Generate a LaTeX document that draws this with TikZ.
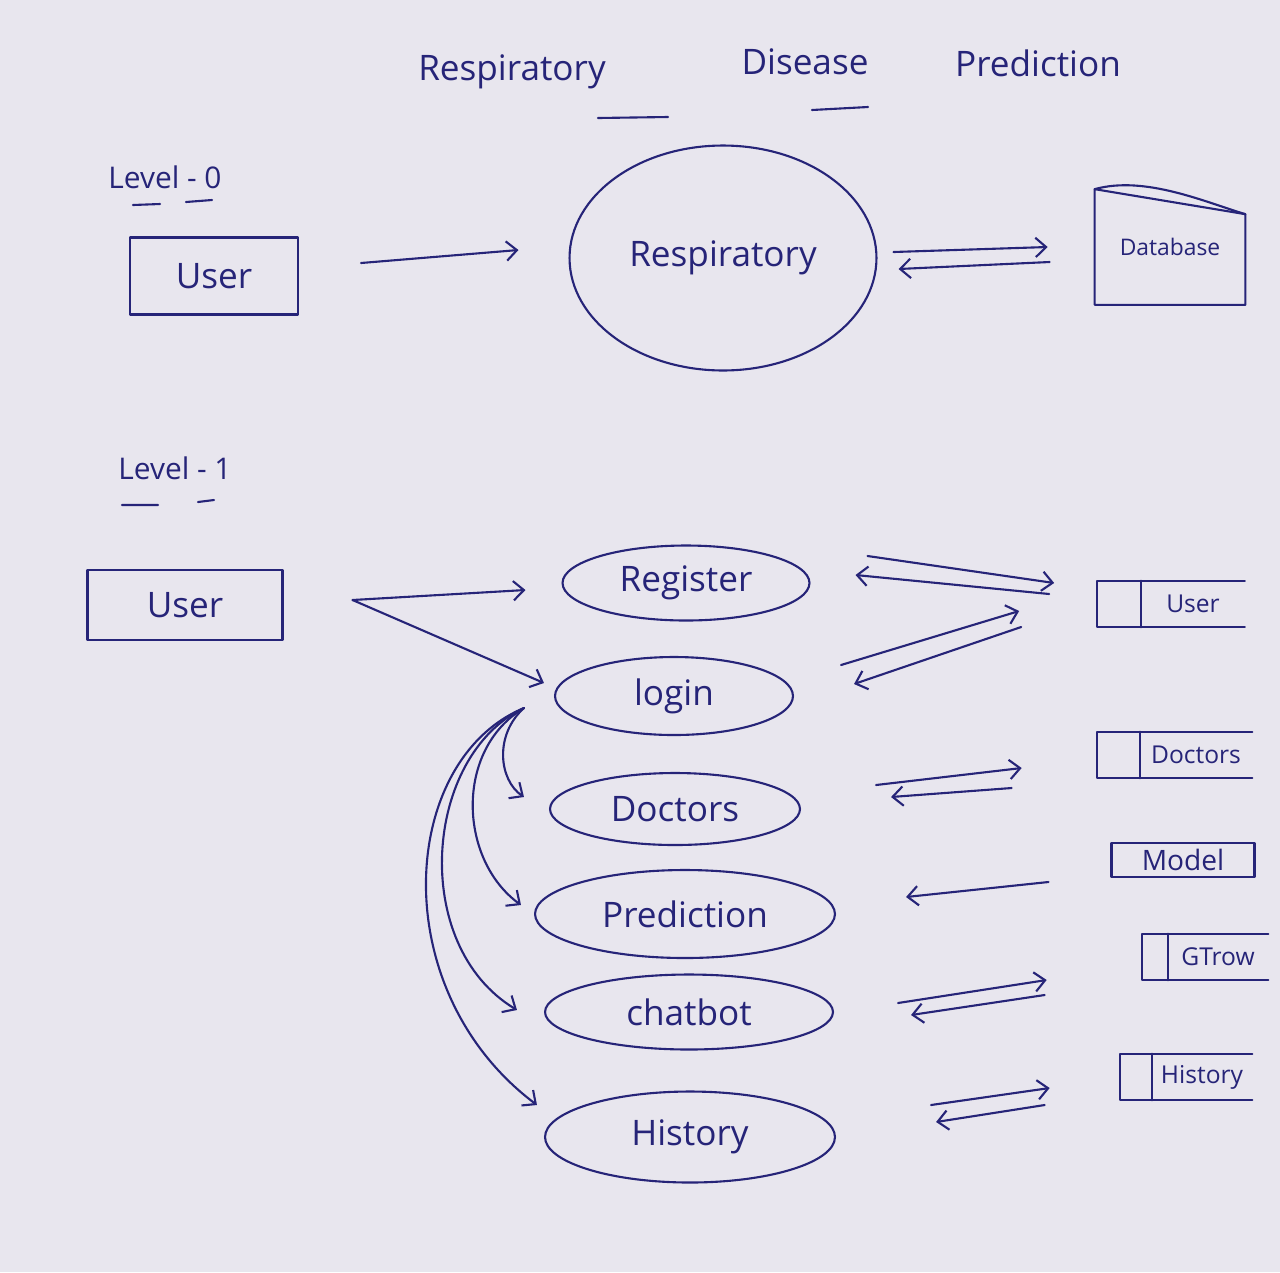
\documentclass[tikz,border=0pt]{standalone}
\usepackage{fontspec}
\setmainfont{Open Sans}
\usetikzlibrary{shapes.geometric,arrows.meta}
\definecolor{ink}{RGB}{38,36,120}
\definecolor{paper}{RGB}{232,230,238}
\tikzset{
  every node/.style={
    font=\fontsize{20}{24}\selectfont,
    text=ink
  },
  pen/.style={
    draw=ink,
    line width=1.2pt,
    line cap=round,
    line join=round
  },
  flow/.style={
    pen,
    -{Straight Barb[length=6pt,width=11pt]}
  },
  heading/.style={
    font=\fontsize{20}{24}\selectfont
  },
  level/.style={
    font=\fontsize{17}{20}\selectfont
  },
  entity/.style={
    shape=rectangle,
    pen
  },
  process/.style={
    shape=ellipse,
    pen,
    inner sep=0pt
  },
  datastore/.style={
    shape=rectangle,
    minimum height=0.92cm,
    font=\fontsize{14}{16}\selectfont
  }
}

\begin{document}
\begin{tikzpicture}[x=0.02cm,y=-0.02cm]

\fill[paper] (0,0) rectangle (1280,1272);
\useasboundingbox (0,0) rectangle (1280,1272);

% title
\node[heading] (tresp) at (512,72) {Respiratory};
\node[heading] (tdis) at (805,62) {Disease};
\node[heading] (tpred) at (1038,63) {Prediction};
\draw[pen] (598,118) -- (668,117) (812,110) -- (868,107);

% level 0
\node[level] (lvl0) at (165,177) {Level - 0};
\draw[pen] (133,205) -- (160,204) (186,202) -- (212,200);

\node[entity, minimum width=3.36cm, minimum height=1.54cm] (user0) at (214,276) {User};
\node[process, minimum width=6.14cm, minimum height=4.5cm] (resp) at (723,258) {Respiratory};
\node[datastore, minimum width=3cm, minimum height=2.3cm, font=\fontsize{13}{15}\selectfont] (db) at (1170,247) {Database};
\draw[pen] (db.north west) -- ([shift={(0,25)}]db.north east) -- (db.south east) -- (db.south west) -- cycle;
\draw[pen] (db.north west) .. controls +(50,-14) and +(-40,-12) .. ([shift={(0,25)}]db.north east);

\draw[flow] ([shift={(62,-13)}]user0.east) -- ([shift={(-50,-8)}]resp.west);
\draw[flow] ([shift={(16,-6)}]resp.east) -- ([shift={(-47,0)}]db.west);
\draw[flow] ([shift={(-45,15)}]db.west) -- ([shift={(21,11)}]resp.east);

% level 1
\node[level] (lvl1) at (175,468) {Level - 1};
\draw[pen] (122,505) -- (158,505) (198,502) -- (214,500);

\node[entity, minimum width=3.9cm, minimum height=1.4cm] (user1) at (185,605) {User};

\node[process, minimum width=4.94cm, minimum height=1.5cm] (register) at (686,583) {Register};
\node[process, minimum width=4.76cm, minimum height=1.56cm] (login) at (674,696) {login};
\node[process, minimum width=5cm, minimum height=1.44cm] (doctors) at (675,809) {Doctors};
\node[process, minimum width=6cm, minimum height=1.76cm] (prediction) at (685,914) {Prediction};
\node[process, minimum width=5.76cm, minimum height=1.5cm] (chatbot) at (689,1012) {chatbot};
\node[process, minimum width=5.8cm, minimum height=1.82cm] (history) at (690,1137) {History};

\node[datastore, minimum width=2.06cm] (userdb) at (1193,604) {User};
\node[datastore, minimum width=2.24cm] (doctordb) at (1196,755) {Doctors};
\node[datastore, pen, minimum width=2.86cm, minimum height=0.62cm, font=\fontsize{16}{18}\selectfont] (modeldb) at (1183,860) {Model};
\node[datastore, minimum width=2cm] (gtrowdb) at (1218,957) {GTrow};
\node[datastore, minimum width=2cm] (historydb) at (1202,1077) {History};

\foreach \store/\cellw in {userdb/0.88cm, doctordb/0.86cm, gtrowdb/0.52cm, historydb/0.64cm}
  \draw[pen] (\store.north east) -- ([xshift=-\cellw]\store.north west)
    -- ([xshift=-\cellw]\store.south west) -- (\store.south east)
    (\store.north west) -- (\store.south west);

% user to register and login
\draw[flow] ([shift={(69,-5)}]user1.east) -- ([shift={(-36,7)}]register.west);
\draw[flow] ([shift={(69,-5)}]user1.east) -- ([shift={(-10,-13)}]login.west);

% login to the other processes
\draw[flow] ([shift={(-30,12)}]login.west) .. controls +(-30,27) and +(-25,-17) .. ([shift={(-25,-12)}]doctors.west);
\draw[flow] ([shift={(-30,12)}]login.west) .. controls +(-70,42) and +(-62,-45) .. ([shift={(-13,-9)}]prediction.west);
\draw[flow] ([shift={(-30,12)}]login.west) .. controls +(-100,47) and +(-108,-65) .. ([shift={(-27,-2)}]chatbot.west);
\draw[flow] ([shift={(-30,12)}]login.west) .. controls +(-125,52) and +(-153,-115) .. ([shift={(-7,-32)}]history.west);

% processes and stores
\draw[flow] ([shift={(57,-27)}]register.east) -- ([shift={(-87,-21)}]userdb.west);
\draw[flow] ([shift={(-92,-10)}]userdb.west) -- ([shift={(45,-8)}]register.east);
\draw[flow] ([shift={(47,-31)}]login.east) -- ([shift={(-122,7)}]userdb.west);
\draw[flow] ([shift={(-120,23)}]userdb.west) -- ([shift={(60,-12)}]login.east);
\draw[flow] ([shift={(75,-24)}]doctors.east) -- ([shift={(-118,13)}]doctordb.west);
\draw[flow] ([shift={(-128,33)}]doctordb.west) -- ([shift={(90,-12)}]doctors.east);
\draw[flow] ([shift={(-62,22)}]modeldb.west) -- ([shift={(70,-17)}]prediction.east);
\draw[flow] ([shift={(64,-9)}]chatbot.east) -- ([shift={(-121,23)}]gtrowdb.west);
\draw[flow] ([shift={(-123,38)}]gtrowdb.west) -- ([shift={(77,3)}]chatbot.east);
\draw[flow] ([shift={(95,-32)}]history.east) -- ([shift={(-102,11)}]historydb.west);
\draw[flow] ([shift={(-107,28)}]historydb.west) -- ([shift={(100,-15)}]history.east);

\end{tikzpicture}
\end{document}
